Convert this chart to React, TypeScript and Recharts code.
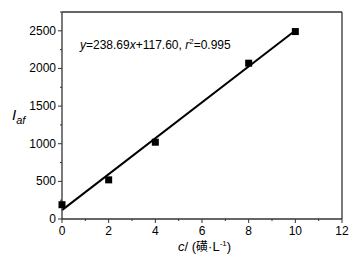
import { ComposedChart, Line, ReferenceLine, Scatter, XAxis, YAxis } from 'recharts';

const concX = [0, 2, 4, 8, 10];
const intensity = [190, 520, 1020, 2070, 2490];
const fitX = [0, 10];
const fitY = [117.6, 2504.5];
const xTicks = [0, 1, 2, 3, 4, 5, 6, 7, 8, 9, 10, 11, 12];
const yTicks = [0, 250, 500, 750, 1000, 1250, 1500, 1750, 2000, 2250, 2500, 2750];

const points = concX.map((x, i) => ({ x, y: intensity[i] }));
const fit = fitX.map((x, i) => ({ x, y: fitY[i] }));

const FONT = '"Liberation Sans", Arial, sans-serif';
const AXIS = '#333';

function XTick({ x, y, payload }: any) {
  const major = payload.value % 2 === 0;
  return (
    <g>
      <line x1={x} x2={x} y1={y} y2={y + (major ? 4 : 2)} stroke={AXIS} strokeWidth={1} />
      {major && (
        <text x={x} y={y + 16} textAnchor='middle' fontSize={12} fontFamily={FONT} fill='#000'>
          {payload.value}
        </text>
      )}
    </g>
  );
}

function YTick({ x, y, payload }: any) {
  const major = payload.value % 500 === 0;
  return (
    <g>
      <line x1={x} x2={x - (major ? 4 : 2)} y1={y} y2={y} stroke={AXIS} strokeWidth={1} />
      {major && (
        <text x={x - 6} y={y + 4} textAnchor='end' fontSize={12} fontFamily={FONT} fill='#000'>
          {payload.value}
        </text>
      )}
    </g>
  );
}

const square = (props: any) => (
  <rect x={props.cx - 3.5} y={props.cy - 3.5} width={7} height={7} fill='#000' />
);

export default function App() {
  return (
    <div style={{ position: 'absolute', left: 0, top: 0, width: 358, height: 261, background: '#fff' }}>
      <ComposedChart width={358} height={261} margin={{ top: 12, right: 16, left: 0, bottom: 0 }}>
        <XAxis
          type='number'
          dataKey='x'
          domain={[0, 12]}
          ticks={xTicks}
          interval={0}
          height={42}
          tickSize={0}
          tickMargin={0}
          tick={<XTick />}
          axisLine={{ stroke: AXIS, strokeWidth: 1.3 }}
        />
        <YAxis
          type='number'
          dataKey='y'
          domain={[0, 2750]}
          ticks={yTicks}
          interval={0}
          width={62}
          tickSize={0}
          tickMargin={0}
          tick={<YTick />}
          axisLine={{ stroke: AXIS, strokeWidth: 1.3 }}
        />
        <ReferenceLine y={2750} stroke={AXIS} strokeWidth={1.3} />
        <ReferenceLine x={12} stroke={AXIS} strokeWidth={1.3} />
        <Line data={fit} dataKey='y' stroke='#000' strokeWidth={2} dot={false} isAnimationActive={false} />
        <Scatter data={points} dataKey='y' fill='#000' shape={square} isAnimationActive={false} />
      </ComposedChart>
      <div style={{ position: 'absolute', left: 80, top: 37, fontFamily: FONT, fontSize: 12, color: '#000', whiteSpace: 'nowrap' }}>
        <i>y</i>=238.69<i>x</i>+117.60, <i>r</i>
        <sup style={{ fontSize: 8 }}>2</sup>=0.995
      </div>
      <div style={{ position: 'absolute', left: 12, top: 106, fontFamily: FONT, fontSize: 15, color: '#000', whiteSpace: 'nowrap' }}>
        <i>I</i>
        <sub style={{ fontSize: 11 }}>
          <i>af</i>
        </sub>
      </div>
      <div style={{ position: 'absolute', left: 178, top: 237, fontFamily: FONT, fontSize: 13, color: '#000', whiteSpace: 'nowrap' }}>
        <i>c</i>/ (<span style={{ fontFamily: '"Noto Sans CJK SC"', fontSize: 12 }}>磺</span>·L
        <sup style={{ fontSize: 8 }}>-1</sup>)
      </div>
    </div>
  );
}
